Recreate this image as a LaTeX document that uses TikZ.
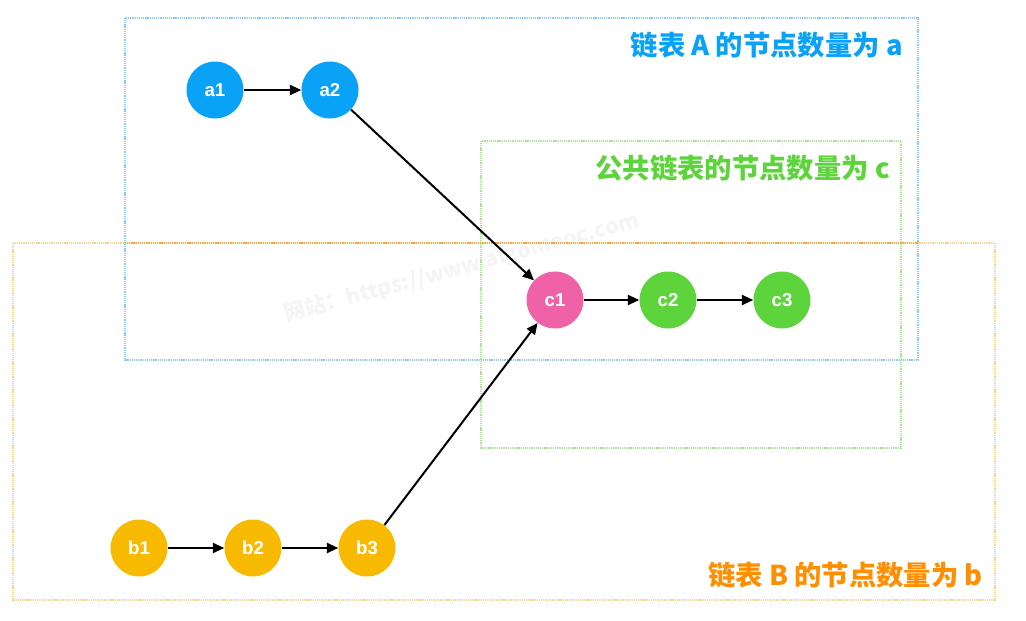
\documentclass[tikz,border=0pt]{standalone}
\usepackage{fontspec}
\setmainfont{Liberation Sans}
\newfontfamily\cjk{Noto Sans CJK SC}
\usetikzlibrary{arrows.meta}
\definecolor{cblue}{HTML}{0AA2F6}
\definecolor{cgreen}{HTML}{5DD43B}
\definecolor{cpink}{HTML}{EF62A8}
\definecolor{cyell}{HTML}{F8BA00}
\definecolor{corange}{HTML}{FF8F00}
\definecolor{lblue}{HTML}{8CCBF5}
\definecolor{lgreen}{HTML}{A8E596}
\definecolor{lorange}{HTML}{FAD38C}
\begin{document}
\begin{tikzpicture}[x=0.75pt,y=-0.75pt,
  nd/.style={circle,minimum size=42.75pt,inner sep=0pt,text=white,font=\fontsize{14}{16}\selectfont\bfseries},
  lnk/.style={-{Triangle[length=8.5pt,width=7.5pt]},line width=1.5pt,black},
  grp/.style={dash pattern=on 0.8pt off 0.6pt,line width=0.9pt},
  ttl/.style={anchor=east,inner sep=0pt,font=\cjk\fontsize{20.5}{22}\selectfont\bfseries}]
\useasboundingbox (0,0) rectangle (1026,621);
% watermark
\node[rotate=15,text=black!4,font=\cjk\fontsize{16}{18}\selectfont\bfseries] (wm) at (462,268) {网站：https://www.algomooc.com};
% group boxes
\draw[grp,lorange] (13,243) rectangle (995,600);
\draw[grp,lgreen] (481,141) rectangle (901,448);
\draw[grp,lblue] (125,18) rectangle (918,360);
\draw[grp,corange!80] (125,243) -- (918,243);
% titles
\node[ttl,text=cblue] (ta) at (903,45) {链表 A 的节点数量为 a};
\node[ttl,text=cgreen] (tc) at (890,168) {公共链表的节点数量为 c};
\node[ttl,text=corange] (tb) at (983,575) {链表 B 的节点数量为 b};
% nodes
\node[nd,fill=cblue] (a1) at (215,90) {a1};
\node[nd,fill=cblue] (a2) at (330,90) {a2};
\node[nd,fill=cpink] (c1) at (555,300) {c1};
\node[nd,fill=cgreen] (c2) at (668,300) {c2};
\node[nd,fill=cgreen] (c3) at (782,300) {c3};
\node[nd,fill=cyell] (b1) at (139,548) {b1};
\node[nd,fill=cyell] (b2) at (253,548) {b2};
\node[nd,fill=cyell] (b3) at (367,548) {b3};
% links
\draw[lnk] (a1) -- (a2);
\draw[lnk] (a2) -- (c1);
\draw[lnk] (c1) -- (c2);
\draw[lnk] (c2) -- (c3);
\draw[lnk] (b1) -- (b2);
\draw[lnk] (b2) -- (b3);
\draw[lnk] (b3) -- (c1);
\end{tikzpicture}
\end{document}
